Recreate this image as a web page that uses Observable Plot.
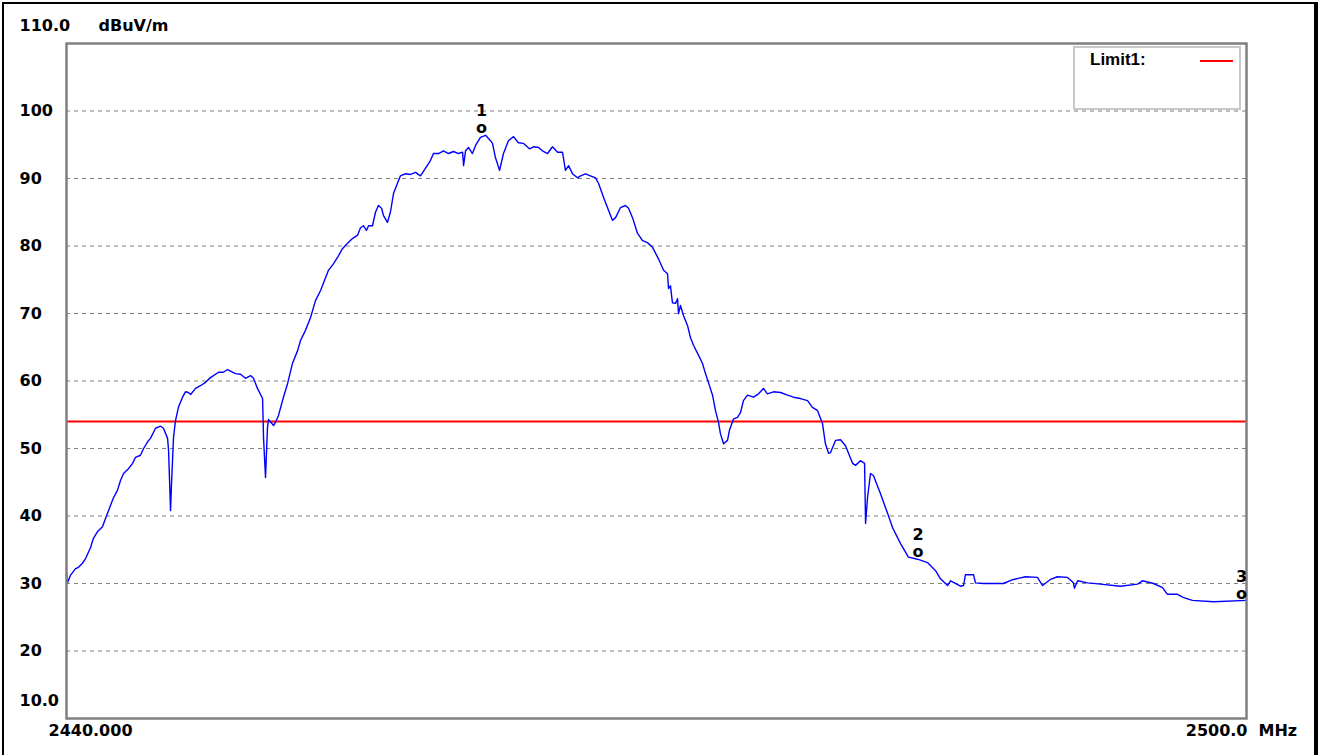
<!DOCTYPE html>
<html>
<head>
<meta charset="utf-8">
<script src="https://cdn.jsdelivr.net/npm/d3@7"></script>
<script src="https://cdn.jsdelivr.net/npm/@observablehq/plot@0.6"></script>
<style>
  body { margin: 0; background: #fff; }
  #wrap { position: relative; width: 1318px; height: 755px; overflow: hidden; background: #fff; }
  #border { position: absolute; left: 2px; top: 2px; width: 1316px; height: 760px; border-left: 2px solid #000; border-top: 2px solid #000; border-right: 4px solid #000; box-sizing: border-box; pointer-events: none; }
  #legend { position: absolute; left: 1073px; top: 46px; width: 168px; height: 64px; border: 2px solid #c8c8c8; box-sizing: border-box; background: #fff;
            font-family: "Liberation Sans", Arial, sans-serif; font-weight: bold; font-size: 17px; color: #000; }
  #legend .lbl { position: absolute; left: 15px; top: 2px; }
  #legend .sw { position: absolute; left: 125px; top: 12px; width: 33px; height: 2px; background: #ff0000; }
  svg { display: block; }
</style>
</head>
<body>
<div id="wrap">
  <div id="chart"></div>
  <div id="legend"><span class="lbl">Limit1:</span><span class="sw"></span></div>
  <div id="border"></div>
</div>
<script>
// Frequency (MHz) of each trace point
const freqMHz = [
  2440.00,2440.05,2440.20,2440.46,2440.61,2440.81,2440.97,2441.22,2441.37,2441.58,
  2441.83,2441.98,2442.14,2442.24,2442.39,2442.59,2442.75,2442.90,2443.15,2443.36,
  2443.51,2443.76,2443.92,2444.17,2444.27,2444.53,2444.78,2444.93,2445.14,2445.19,
  2445.29,2445.34,2445.44,2445.54,2445.69,2445.90,2446.05,2446.20,2446.31,2446.56,
  2446.81,2447.07,2447.32,2447.73,2447.98,2448.19,2448.59,2448.85,2449.10,2449.36,
  2449.51,2449.71,2449.97,2450.02,2450.12,2450.22,2450.27,2450.53,2450.63,2450.78,
  2451.03,2451.24,2451.49,2451.75,2451.90,2452.15,2452.41,2452.66,2452.92,2453.17,
  2453.32,2453.58,2453.78,2454.03,2454.29,2454.54,2454.80,2454.95,2455.10,2455.25,
  2455.36,2455.56,2455.71,2455.86,2456.02,2456.12,2456.32,2456.47,2456.63,2456.83,
  2456.98,2457.24,2457.49,2457.75,2458.00,2458.25,2458.51,2458.66,2458.92,2459.17,
  2459.42,2459.68,2459.93,2460.14,2460.19,2460.29,2460.44,2460.64,2460.80,2461.05,
  2461.31,2461.56,2461.66,2461.81,2462.02,2462.22,2462.47,2462.73,2462.98,2463.24,
  2463.54,2463.75,2464.00,2464.20,2464.46,2464.71,2464.97,2465.22,2465.37,2465.53,
  2465.73,2465.98,2466.14,2466.39,2466.64,2466.90,2467.05,2467.31,2467.56,2467.76,
  2467.92,2468.17,2468.42,2468.58,2468.78,2469.03,2469.29,2469.54,2469.80,2470.10,
  2470.36,2470.56,2470.61,2470.71,2470.81,2470.97,2471.07,2471.12,2471.22,2471.37,
  2471.58,2471.73,2471.88,2472.14,2472.34,2472.49,2472.64,2472.85,2473.00,2473.15,
  2473.25,2473.41,2473.61,2473.71,2473.92,2474.12,2474.27,2474.42,2474.63,2474.93,
  2475.19,2475.44,2475.64,2475.95,2476.31,2476.66,2476.97,2477.32,2477.68,2477.93,
  2478.19,2478.44,2478.59,2478.75,2478.85,2479.10,2479.36,2479.61,2479.97,2480.12,
  2480.37,2480.58,2480.63,2480.73,2480.88,2481.03,2481.39,2481.75,2482.00,2482.41,
  2482.81,2483.27,2483.78,2484.19,2484.44,2484.80,2484.95,2485.46,2485.61,2485.71,
  2486.12,2486.22,2486.63,2487.64,2488.15,2488.76,2489.37,2489.63,2490.03,2490.39,
  2490.90,2491.20,2491.25,2491.41,2491.92,2492.58,2493.59,2494.46,2494.71,2495.27,
  2495.73,2495.98,2496.49,2496.80,2497.25,2498.32,2500.00
];
// Measured level (dBuV/m) of each trace point
const levelDbuV = [
  31.5,30.1,31.2,32.2,32.4,33.0,33.7,35.3,36.7,37.7,
  38.4,39.6,40.8,41.6,42.7,43.8,45.3,46.3,47.0,47.8,
  48.7,49.0,50.0,51.2,51.5,53.0,53.3,53.0,51.5,49.7,
  40.8,44.8,51.6,54.1,56.1,57.6,58.4,58.3,58.0,58.9,
  59.3,59.8,60.5,61.3,61.3,61.7,61.1,61.0,60.4,60.8,
  60.4,58.9,57.4,51.5,45.7,53.1,54.3,53.4,53.9,54.9,
  57.6,59.6,62.6,64.5,66.0,67.5,69.4,71.9,73.4,75.3,
  76.4,77.4,78.3,79.6,80.4,81.1,81.6,82.7,83.0,82.3,
  83.0,83.0,85.0,86.0,85.6,84.5,83.5,85.0,87.8,89.3,
  90.4,90.7,90.6,90.9,90.4,91.5,92.7,93.7,93.7,94.1,
  93.7,94.0,93.7,93.9,91.9,94.1,94.6,93.7,94.9,96.1,
  96.4,95.6,95.2,93.1,91.2,93.7,95.6,96.2,95.3,95.2,
  94.4,94.7,94.6,94.1,93.7,94.7,93.9,93.9,91.2,91.9,
  90.7,90.1,90.4,90.7,90.4,90.1,89.3,87.2,85.3,83.8,
  84.2,85.7,86.0,85.6,84.2,81.9,80.8,80.5,79.8,78.1,
  76.4,75.9,73.7,74.1,71.6,71.5,72.2,70.0,71.2,69.7,
  68.2,66.4,65.3,63.8,62.6,61.1,59.8,57.9,55.6,53.9,
  52.2,50.7,51.2,52.7,54.4,54.6,55.3,57.1,57.9,57.6,
  58.1,58.9,58.1,58.4,58.3,57.9,57.6,57.4,57.1,56.1,
  55.6,53.7,50.7,49.3,49.4,51.2,51.3,50.4,47.8,47.5,
  48.2,47.8,38.9,42.7,46.3,46.0,43.3,40.4,38.3,35.9,
  33.9,33.6,33.1,31.9,30.7,29.7,30.4,29.6,29.7,31.3,
  31.3,30.1,30.0,30.0,30.6,31.0,30.9,29.7,30.6,31.0,
  30.9,30.1,29.3,30.4,30.1,29.9,29.6,29.9,30.4,30.0,
  29.4,28.4,28.4,27.9,27.5,27.3,27.5
];
const limitLevel = [54];
const gridLevels = [20, 30, 40, 50, 60, 70, 80, 90, 100];
const yTickValues = [100, 90, 80, 70, 60, 50, 40, 30, 20];
const yTickLabels = ["100", "90", "80", "70", "60", "50", "40", "30", "20"];
const yEdgeValues = [110, 10];
const yEdgeLabels = ["110.0", "10.0"];
const yUnit = "dBuV/m";
const xStart = 2440, xEnd = 2500;
const xStartLabel = "2440.000", xEndLabel = "2500.0", xUnit = "MHz";
const markerIds = ["1", "2", "3"];
const markerFreq = [2461.1, 2483.3, 2499.75];
const markerLevel = [96.4, 33.6, 27.5];

if (freqMHz.length !== levelDbuV.length) console.error("length mismatch", freqMHz.length, levelDbuV.length);

const trace = freqMHz.map((f, i) => ({ f, v: levelDbuV[i] }));
const yTicks = yTickValues.map((v, i) => ({ v, label: yTickLabels[i] }));
const yEdges = yEdgeValues.map((v, i) => ({ v, label: yEdgeLabels[i] }));
const markers = markerIds.map((id, i) => ({ id, f: markerFreq[i], v: markerLevel[i] }));

const font = { fontFamily: "'DejaVu Sans', sans-serif", fontWeight: "bold", fontSize: 16, fill: "#000" };

const chart = Plot.plot({
  width: 1318,
  height: 755,
  marginLeft: 66,
  marginRight: 72,
  marginTop: 43,
  marginBottom: 37,
  x: { domain: [xStart, xEnd], axis: null },
  y: { domain: [10, 110], axis: null },
  style: { fontFamily: "'DejaVu Sans', sans-serif", fontWeight: "bold", fontSize: "16px", background: "transparent", overflow: "visible" },
  marks: [
    Plot.ruleY(gridLevels, { stroke: "#808080", strokeWidth: 1.2, strokeDasharray: "4,4" }),
    Plot.ruleY(limitLevel, { stroke: "#ff0000", strokeWidth: 1.8 }),
    Plot.line(trace, { x: "f", y: "v", stroke: "#0000ff", strokeWidth: 1.4 }),
    Plot.frame({ stroke: "#808080", strokeWidth: 2.5 }),
    Plot.text(yTicks, { y: "v", text: "label", frameAnchor: "left", textAnchor: "start", dx: -47, dy: 0, ...font }),
    Plot.text(yEdges, { y: "v", text: "label", frameAnchor: "left", textAnchor: "start", dx: -47, dy: -18, ...font }),
    Plot.text([yUnit], { y: [110], text: d => d, frameAnchor: "left", textAnchor: "start", dx: 32, dy: -18, ...font }),
    Plot.text([xStartLabel], { x: [xStart], text: d => d, frameAnchor: "bottom", textAnchor: "start", dx: -18, dy: 17, ...font }),
    Plot.text([xEndLabel], { x: [xEnd], text: d => d, frameAnchor: "bottom", textAnchor: "end", dx: 1, dy: 17, ...font }),
    Plot.text([xUnit], { x: [xEnd], text: d => d, frameAnchor: "bottom", textAnchor: "start", dx: 12, dy: 17, ...font }),
    Plot.text(markers, { x: "f", y: "v", text: "id", dy: -24, ...font }),
    Plot.text(markers, { x: "f", y: "v", text: () => "o", dy: -7, ...font })
  ]
});
document.getElementById("chart").appendChild(chart);
</script>
</body>
</html>
